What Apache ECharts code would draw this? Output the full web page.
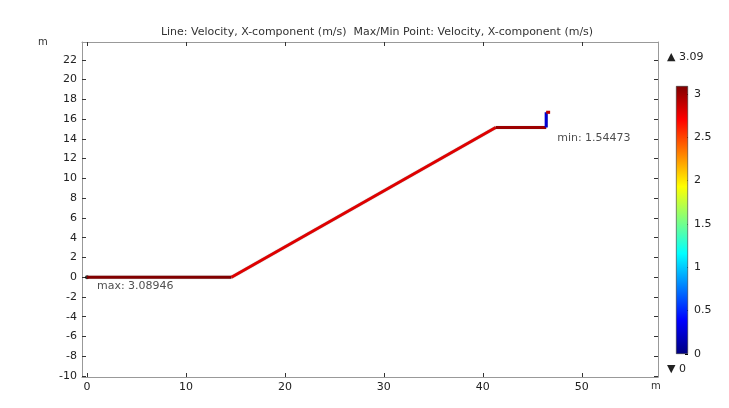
<!DOCTYPE html>
<html><head><meta charset="utf-8">
<script src="https://cdn.jsdelivr.net/npm/echarts@6/dist/echarts.min.js"></script>
<style>html,body{margin:0;padding:0;background:#fff}#c{width:729px;height:408px}</style>
</head><body><div id="c"></div>
<script>
// Polyline segments: [x0, y0, x1, y1] in m, with velocity x-component (m/s)
const segX = [[0, 14.6], [14.6, 41.3], [41.3, 46.4], [46.4, 46.4], [46.4, 46.8]];
const segY = [[0, 0], [0, 15.15], [15.15, 15.15], [15.15, 16.7], [16.7, 16.7]];
const segV = [3.08, 2.8, 3.0, 0.25, 2.9];
const maxPoint = [0, 0, 3.08946];
const minPoint = [46.4, 15.15, 1.54473];
const xTicks = [0, 10, 20, 30, 40, 50];
const yTicks = [-10, -8, -6, -4, -2, 0, 2, 4, 6, 8, 10, 12, 14, 16, 18, 20, 22];
const cbTicks = [0, 0.5, 1, 1.5, 2, 2.5, 3];
const cbMin = 0, cbMax = 3.09;

const jet = ['#00007f', '#0000ff', '#007fff', '#00ffff', '#7fff7f', '#ffff00', '#ff7f00', '#ff0000', '#7f0000'];
function hex(c){return [parseInt(c.substr(1,2),16),parseInt(c.substr(3,2),16),parseInt(c.substr(5,2),16)];}
function colorOf(v){
  let t = Math.max(0, Math.min(1, (v - cbMin) / (cbMax - cbMin))) * (jet.length - 1);
  let i = Math.min(jet.length - 2, Math.floor(t)), f = t - i;
  let a = hex(jet[i]), b = hex(jet[i+1]);
  return 'rgb(' + a.map((x,k)=>Math.round(x + (b[k]-x)*f)).join(',') + ')';
}

const chart = echarts.init(document.getElementById('c'));
const font = 'DejaVu Sans';
const series = segX.map((sx, i) => ({
  type: 'line', xAxisIndex: 0, yAxisIndex: 0,
  data: [[sx[0], segY[i][0]], [sx[1], segY[i][1]]],
  showSymbol: false, silent: true, animation: false,
  lineStyle: {color: colorOf(segV[i]), width: 3, shadowColor: 'rgba(0,0,0,0.35)', shadowBlur: 1}
}));
series.push({
  type: 'scatter', xAxisIndex: 0, yAxisIndex: 0, animation: false,
  data: [maxPoint], symbolSize: 4, itemStyle: {color: '#000'},
  label: {show: true, position: [12, 5], formatter: p => 'max: ' + p.value[2].toFixed(5),
    color: '#222', fontFamily: font, fontSize: 11}
});
series.push({
  type: 'scatter', xAxisIndex: 0, yAxisIndex: 0, animation: false,
  data: [minPoint], symbolSize: 0,
  label: {show: true, position: [11, 5], formatter: p => 'min: ' + p.value[2].toFixed(5),
    color: '#222', fontFamily: font, fontSize: 11}
});
series.push({
  type: 'bar', xAxisIndex: 2, yAxisIndex: 2, animation: false, silent: true,
  data: [cbMax], barWidth: '100%',
  itemStyle: {
    borderColor: '#333', borderWidth: 0.6,
    color: {type: 'linear', x: 0, y: 1, x2: 0, y2: 0,
      colorStops: jet.map((c, i) => ({offset: i / (jet.length - 1), color: c}))}
  }
});

const tickStyle = {color: '#333', width: 1};
const lineSt = {show: true, onZero: false, lineStyle: {color: '#999', width: 1}};
chart.setOption({
  animation: false,
  backgroundColor: '#fff',
  title: {text: 'Line: Velocity, X-component (m/s)  Max/Min Point: Velocity, X-component (m/s)',
    left: 372, top: 22, textAlign: 'center',
    textStyle: {fontFamily: font, fontSize: 11, fontWeight: 'normal', color: '#333'}},
  grid: [
    {left: 82, right: 71, top: 42, bottom: 31, show: false},
    {left: 676, width: 12, top: 86, height: 268, show: false}
  ],
  xAxis: [
    {type: 'value', gridIndex: 0, min: -0.5, max: 57.7, position: 'bottom',
      axisLine: lineSt,
      axisTick: {show: true, inside: true, length: 4, customValues: xTicks, lineStyle: tickStyle},
      axisLabel: {customValues: xTicks, color: '#222', fontFamily: font, fontSize: 11, margin: 5},
      splitLine: {show: false}},
    {type: 'value', gridIndex: 0, min: -0.5, max: 57.7, position: 'top',
      axisLine: lineSt,
      axisTick: {show: true, inside: true, length: 4, customValues: xTicks, lineStyle: tickStyle},
      axisLabel: {show: false}, splitLine: {show: false}},
    {type: 'category', gridIndex: 1, data: ['c'], show: false}
  ],
  yAxis: [
    {type: 'value', gridIndex: 0, min: -10.1, max: 23.8, position: 'left',
      axisLine: lineSt,
      axisTick: {show: true, inside: true, length: 4, customValues: yTicks, lineStyle: tickStyle},
      axisLabel: {customValues: yTicks, color: '#222', fontFamily: font, fontSize: 11, margin: 5},
      splitLine: {show: false}},
    {type: 'value', gridIndex: 0, min: -10.1, max: 23.8, position: 'right',
      axisLine: lineSt,
      axisTick: {show: true, inside: true, length: 4, customValues: yTicks, lineStyle: tickStyle},
      axisLabel: {show: false}, splitLine: {show: false}},
    {type: 'value', gridIndex: 1, min: cbMin, max: cbMax, position: 'right',
      axisLine: {show: false, onZero: false},
      axisTick: {show: true, inside: true, length: 3, customValues: cbTicks, lineStyle: {color: '#000'}},
      axisLabel: {customValues: cbTicks, color: '#222', fontFamily: font, fontSize: 11, margin: 6},
      splitLine: {show: false}}
  ],
  graphic: [
    {type: 'text', left: 38, top: 37, style: {text: 'm', fontFamily: font, fontSize: 10, fill: '#333'}},
    {type: 'text', left: 651, top: 381, style: {text: 'm', fontFamily: font, fontSize: 10, fill: '#333'}},
    {type: 'text', left: 667, top: 52, style: {text: '\u25B2 3.09', fontFamily: font, fontSize: 11, fill: '#222'}},
    {type: 'text', left: 667, top: 364, style: {text: '\u25BC 0', fontFamily: font, fontSize: 11, fill: '#222'}}
  ],
  series: series
});
</script></body></html>
